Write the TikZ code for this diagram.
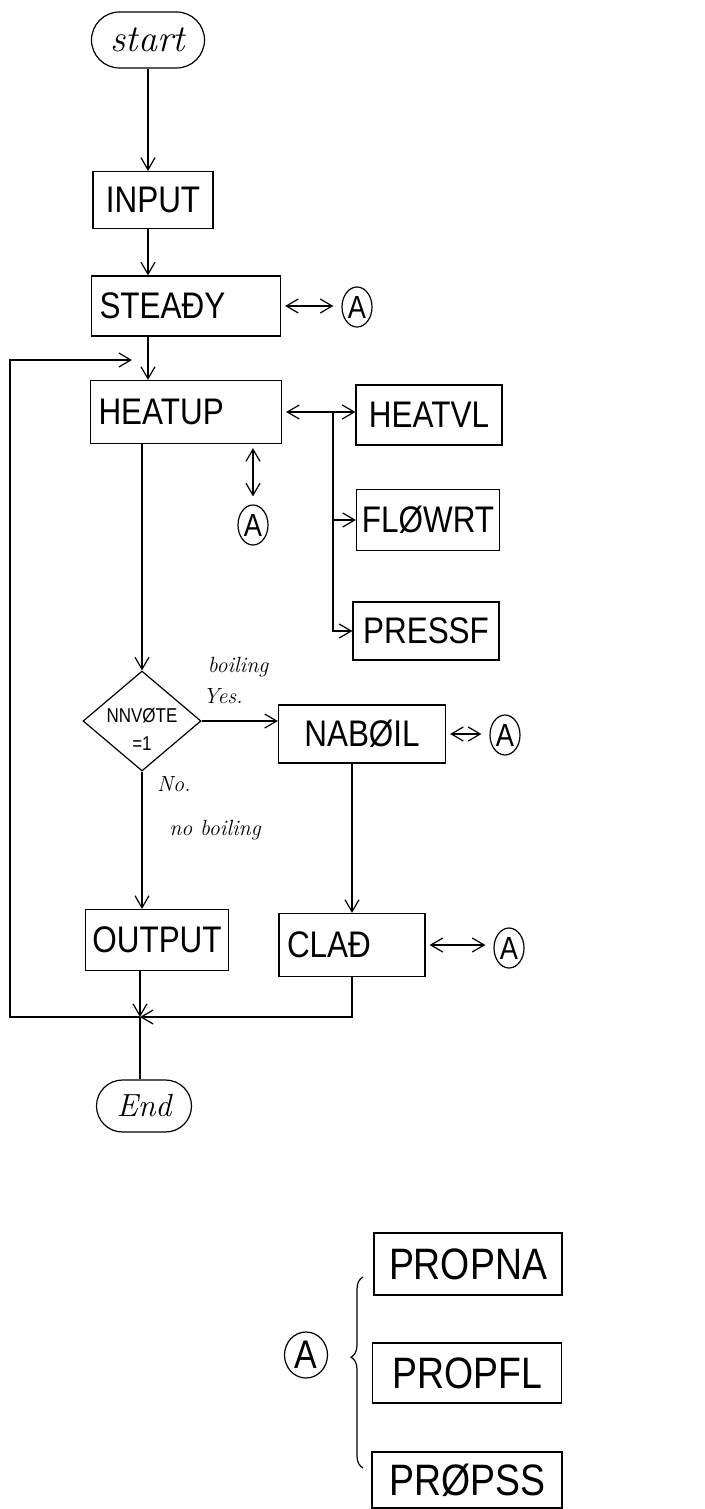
\documentclass[tikz,border=0pt]{standalone}
\usepackage{fontspec}
\newfontfamily\handfont[FakeStretch=0.85]{Liberation Sans}
\usetikzlibrary{arrows.meta,shapes.geometric,shapes.misc,decorations.pathreplacing}

\begin{document}
\begin{tikzpicture}[x=0.5pt,y=-0.5pt,line width=0.6pt,
  >={Straight Barb[length=6pt,width=7pt]},
  every node/.style={font=\handfont\fontsize{18.5}{20}\selectfont},
  box/.style={rectangle,draw,inner sep=0pt},
  lbox/.style={box,align=left,inner xsep=4pt},
  term/.style={rounded rectangle,draw,inner sep=0pt,font=\rmfamily\itshape\fontsize{19}{21}\selectfont},
  conn/.style={ellipse,draw,inner sep=0pt,minimum width=15pt,minimum height=20pt,font=\handfont\fontsize{16}{17}\selectfont},
  dec/.style={diamond,draw,inner sep=0pt,minimum width=59pt,minimum height=50pt},
  declbl/.style={align=center,yshift=-4pt,font=\handfont\fontsize{10}{14}\selectfont},
  note/.style={font=\rmfamily\itshape\fontsize{11}{12}\selectfont},
  link/.style={<->,shorten >=4pt,shorten <=2pt}]
  \useasboundingbox (0,0) rectangle (705,1509);
  % main flow
  \node[term,minimum width=56.5pt,minimum height=28pt] (start) at (148,40) {start};
  \node[box,minimum width=60pt,minimum height=28.5pt] (input) at (153,200) {INPUT};
  \node[lbox,text width=86.5pt,minimum height=30pt] (steady) at (186,306) {STEAĐY};
  \node[lbox,text width=87.5pt,minimum height=31.5pt] (heatup) at (186,412) {HEATUP};
  \node[box,minimum width=73pt,minimum height=30pt] (heatvl) at (429,415) {HEATVL};
  \node[box,minimum width=71.5pt,minimum height=30.5pt] (flowrt) at (428,520) {FLØWRT};
  \node[box,minimum width=73pt,minimum height=29pt] (pressf) at (426,631) {PRESSF};
  \node[conn] (a1) at (357,307) {A};
  \node[conn] (a2) at (253,525) {A};
  \node[dec,label={[declbl]center:{NNVØTE\\=1}}] (dec) at (142,721) {};
  \node[box,minimum width=83.5pt,minimum height=29pt] (naboil) at (362,734) {NABØIL};
  \node[conn] (a3) at (505,735) {A};
  \node[box,minimum width=71.5pt,minimum height=30.5pt] (output) at (157,940) {OUTPUT};
  \node[lbox,text width=65pt,minimum height=31.5pt] (clad) at (352,945) {CLAĐ};
  \node[conn] (a4) at (509,948) {A};
  \node[term,minimum width=47.5pt,minimum height=26pt,font=\rmfamily\itshape\fontsize{16}{18}\selectfont] (end) at (144,1106) {End};
  \node[note] (boil) at (238,667) {boiling};
  \node[note] (yes) at (223,696) {Yes.};
  \node[note] (no) at (174,784) {No.};
  \node[note] (noboil) at (215,830) {no boiling};
  \coordinate (br) at (333,412);
  \coordinate (m) at (140,1017);
  \coordinate (lb) at (10,1017);
  \coordinate (lt) at (132,360);
  \draw[->] (start |- start.south) -- (start |- input.north);
  \draw[->] (start |- input.south) -- (start |- steady.north);
  \draw[->] (start |- steady.south) -- (start |- heatup.north);
  \draw[link] (steady.east) -- (steady.east -| a1.west);
  \draw[<->,shorten <=2pt] (heatup.east) -- (heatup.east -| heatvl.west);
  \draw[->] (br) |- (flowrt.west);
  \draw[->] (br) |- (pressf.west);
  \draw[link] (a2 |- heatup.south) -- (a2.north);
  \draw[->] (dec |- heatup.south) -- (dec.north);
  \draw[->] (dec.east) -- (dec.east -| naboil.west);
  \draw[link] (naboil.east) -- (naboil.east -| a3.west);
  \draw[->] (dec.south) -- (dec.south |- output.north);
  \draw[->] (clad.north |- naboil.south) -- (clad.north);
  \draw[link] (clad.east) -- (clad.east -| a4.west);
  \draw[->] (m |- output.south) -- (m);
  \draw[->] (clad.south) |- (m);
  \draw (m) -- (m |- end.north);
  \draw[->] (m) -- (lb) |- (lt);
  % legend
  \node[conn,minimum width=21.5pt,minimum height=23pt,font=\handfont\fontsize{20}{22}\selectfont] (a5) at (306,1355) {A};
  \node[box,minimum width=94pt,minimum height=31pt,font=\handfont\fontsize{22}{24}\selectfont] (propna) at (468,1264) {PROPNA};
  \node[box,minimum width=94.5pt,minimum height=30pt,font=\handfont\fontsize{22}{24}\selectfont] (propfl) at (467,1373) {PROPFL};
  \node[box,minimum width=95pt,minimum height=28pt,font=\handfont\fontsize{22}{24}\selectfont] (propss) at (467,1480) {PRØPSS};
  \coordinate (bt) at (363,1277);
  \coordinate (bb) at (363,1468);
  \draw[decorate,decoration={brace,amplitude=6pt,aspect=0.58}] (bb) -- (bt);
\end{tikzpicture}
\end{document}
